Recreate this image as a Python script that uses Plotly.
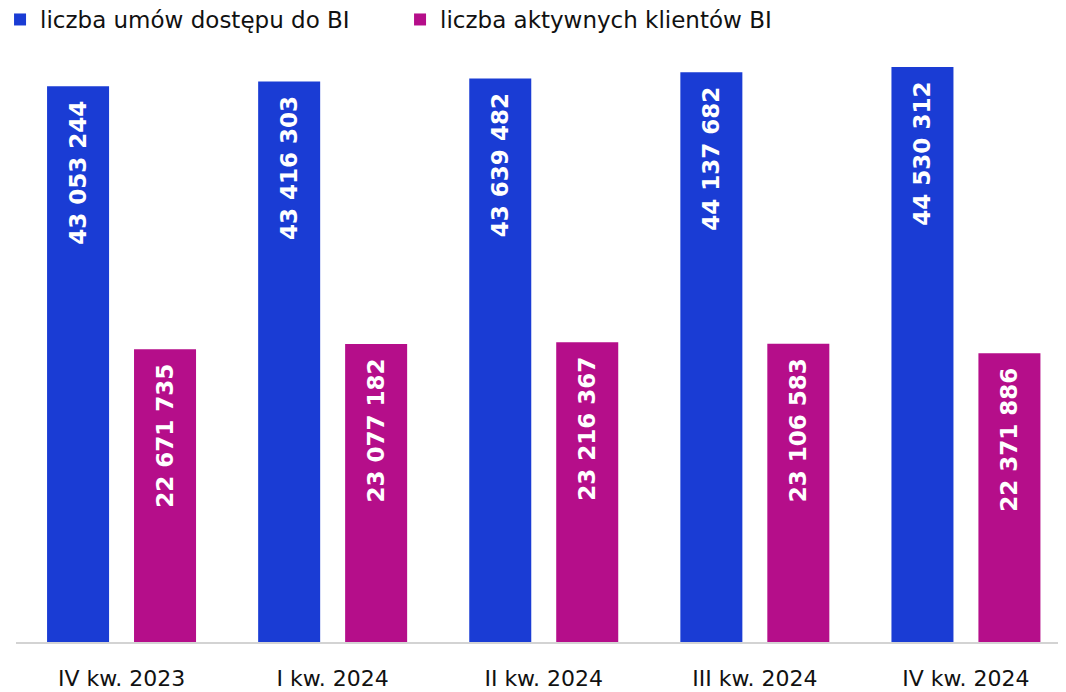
import plotly.graph_objects as go

categories = ["IV kw. 2023", "I kw. 2024", "II kw. 2024", "III kw. 2024", "IV kw. 2024"]
umowy = [43053244, 43416303, 43639482, 44137682, 44530312]
klienci = [22671735, 23077182, 23216367, 23106583, 22371886]
series_names = ["liczba umów dostępu do BI", "liczba aktywnych klientów BI"]

def fmt(v):
    return f"{v:,}".replace(",", " ") + "\u2002"

BLUE = "#1a3cd4"
MAGENTA = "#b50e8a"
FONT = "DejaVu Sans"

W, H = 1058, 684  # page body has an 8px margin

fig = go.Figure()
for vals, name, col in [(umowy, series_names[0], BLUE), (klienci, series_names[1], MAGENTA)]:
    fig.add_trace(go.Bar(
        x=categories, y=vals, name=name,
        marker=dict(color=col, line=dict(width=0)),
        text=[fmt(v) for v in vals], textposition="inside",
        insidetextanchor="end", textangle=-90,
        textfont=dict(color="white", size=23, family=FONT, weight="bold"),
        hoverinfo="skip",
    ))

plot_top = 42
plot_bottom = 634
px_per_unit = 12.91 / 1e6
ymax = (plot_bottom - plot_top) / px_per_unit

fig.update_layout(
    width=W, height=H,
    margin=dict(l=8, r=0, t=plot_top, b=H - plot_bottom, autoexpand=False),
    paper_bgcolor="white", plot_bgcolor="white",
    barmode="group", bargap=0.176, bargroupgap=0.287,
    font=dict(family=FONT, size=22, color="#111111"),
    showlegend=True,
    legend=dict(orientation="h", xref="paper", yref="paper",
                x=-0.0152, y=1.0878, xanchor="left", yanchor="top",
                font=dict(size=23, family=FONT, color="#111111"),
                itemwidth=30, entrywidth=355, entrywidthmode="pixels",
                tracegroupgap=0, traceorder="normal", bgcolor="rgba(0,0,0,0)"),
    uniformtext=dict(mode=False),
)
fig.update_xaxes(
    range=[-0.5, 4.474], showgrid=False, showline=True, linecolor="#d3d3d3", linewidth=2,
    ticks="", tickfont=dict(size=22, family=FONT, color="#111111"), ticklabelstandoff=16,
)
fig.update_yaxes(
    range=[0, ymax], showgrid=False, showticklabels=False, zeroline=False, showline=False,
)

fig.write_html("out.html")
